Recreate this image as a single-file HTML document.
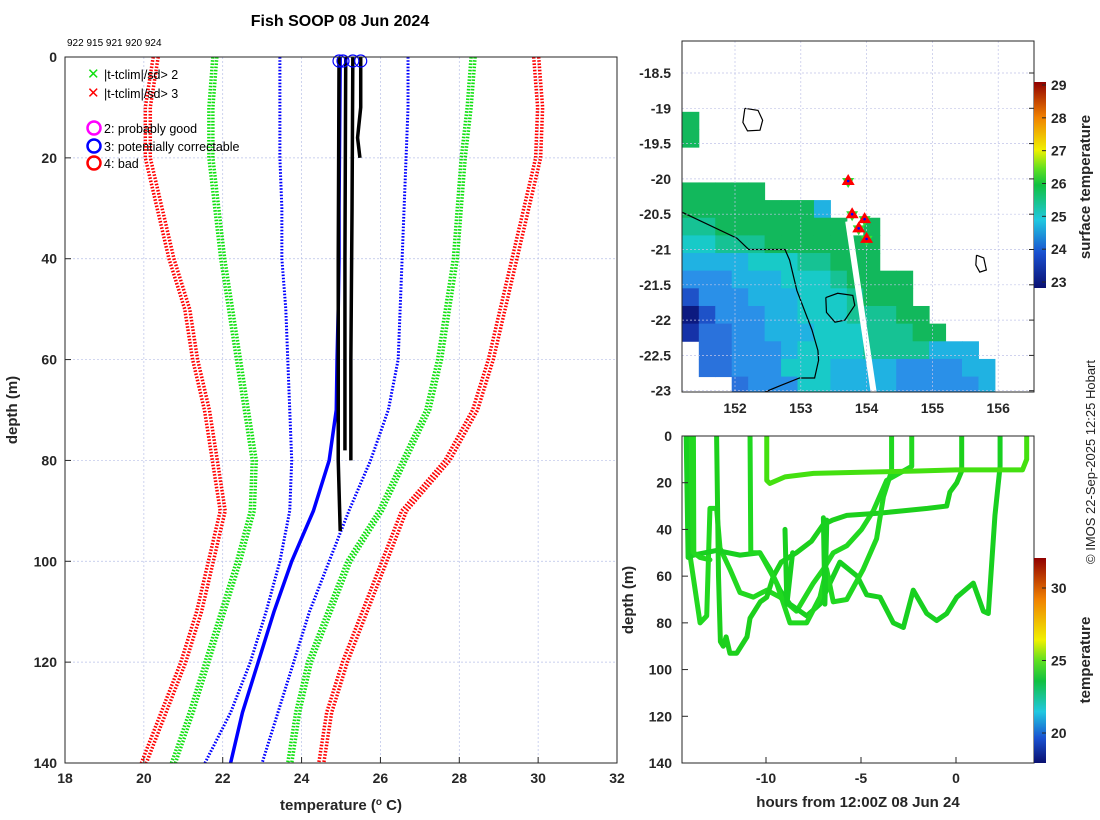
<!DOCTYPE html>
<html><head><meta charset="utf-8">
<style>
body{margin:0;background:#fff;}
svg{display:block;font-family:"Liberation Sans","DejaVu Sans",sans-serif;}
.tk{font-size:14px;font-weight:bold;fill:#262626;}
.lab{font-size:15px;font-weight:bold;fill:#262626;}
</style></head>
<body>
<svg id="fig" width="1100" height="820" viewBox="0 0 1100 820" xmlns="http://www.w3.org/2000/svg">
<defs>
<linearGradient id="cb1" x1="0" y1="1" x2="0" y2="0">
<stop offset="0" stop-color="#0a1070"/><stop offset="0.17" stop-color="#1a50d0"/><stop offset="0.33" stop-color="#20c8e0"/><stop offset="0.5" stop-color="#10c040"/><stop offset="0.58" stop-color="#60e020"/><stop offset="0.67" stop-color="#f0f000"/><stop offset="0.83" stop-color="#f08000"/><stop offset="1" stop-color="#900000"/>
</linearGradient>
<linearGradient id="cb2" x1="0" y1="1" x2="0" y2="0">
<stop offset="0" stop-color="#0a1070"/><stop offset="0.12" stop-color="#1a50d0"/><stop offset="0.25" stop-color="#20c8e0"/><stop offset="0.4" stop-color="#10c040"/><stop offset="0.5" stop-color="#60e020"/><stop offset="0.6" stop-color="#f0f000"/><stop offset="0.8" stop-color="#f08000"/><stop offset="1" stop-color="#900000"/>
</linearGradient>
<clipPath id="clipMain"><rect x="65" y="57" width="552" height="706"/></clipPath>
<clipPath id="clipMap"><rect x="682" y="41" width="352" height="351"/></clipPath>
<clipPath id="clipTime"><rect x="682" y="436" width="352" height="327"/></clipPath>
</defs>
<g id="main"></g>
<g id="map"></g>
<g id="time"></g>
<text x="340" y="26" text-anchor="middle" style="font-size:16px;font-weight:bold;fill:#000">Fish SOOP 08 Jun 2024</text>
<text x="67" y="46" style="font-size:10px;fill:#000">922 915 921 920 924</text>
<text x="341" y="810" text-anchor="middle" class="lab">temperature (<tspan dy="-5" font-size="10">o</tspan><tspan dy="5"> C)</tspan></text>
<text transform="translate(17,410) rotate(-90)" text-anchor="middle" class="lab">depth (m)</text>
<text x="858" y="807" text-anchor="middle" class="lab">hours from 12:00Z 08 Jun 24</text>
<text transform="translate(633,600) rotate(-90)" text-anchor="middle" class="lab">depth (m)</text>
<text transform="translate(1090,187) rotate(-90)" text-anchor="middle" class="lab">surface temperature</text>
<text transform="translate(1090,660) rotate(-90)" text-anchor="middle" class="lab">temperature</text>
<text transform="translate(1095,462) rotate(-90)" text-anchor="middle" style="font-size:13px;fill:#222">© IMOS 22-Sep-2025 12:25 Hobart</text>
</svg>
<script>
const NS="http://www.w3.org/2000/svg";
// ---------- profile plot data ----------
const tempTicks=[18,20,22,24,26,28,30,32];
const depthTicks=[0,20,40,60,80,100,120,140];
const depthLevels=[0,10,20,30,40,50,60,70,80,90,100,110,120,130,140];
const redLeft=[20.3,20.1,20.1,20.4,20.7,21.1,21.3,21.6,21.8,22.0,21.7,21.4,21.0,20.5,20.0];
const greenLeft=[21.8,21.7,21.7,21.85,22.0,22.2,22.4,22.6,22.8,22.75,22.4,22.0,21.6,21.2,20.75];
const blueLeft=[23.45,23.45,23.45,23.5,23.5,23.6,23.65,23.7,23.75,23.7,23.45,23.1,22.7,22.2,21.55];
const blueMain=[24.98,24.97,24.96,24.95,24.95,24.93,24.9,24.88,24.7,24.3,23.75,23.3,22.9,22.5,22.2];
const blueRight=[26.7,26.7,26.65,26.6,26.55,26.5,26.45,26.2,25.75,25.2,24.7,24.2,23.8,23.4,23.0];
const greenRight=[28.35,28.25,28.1,28.0,27.9,27.7,27.5,27.2,26.6,26.0,25.2,24.7,24.2,23.9,23.7];
const redRight=[29.95,30.05,30.0,29.7,29.4,29.1,28.8,28.4,27.7,26.6,26.1,25.6,25.1,24.7,24.5];
const blackA=[[24.95,0],[24.93,40],[24.93,80],[24.98,94]];
const blackB=[[25.3,0],[25.28,30],[25.25,60],[25.25,80]];
const blackC=[[25.5,0],[25.5,10],[25.42,16],[25.48,20]];
const blackD=[[25.12,0],[25.1,40],[25.1,78]];
const dropTemps=[24.95,25.05,25.3,25.5];

const xT=t=>65+(t-18)*552/14;
const yD=d=>57+d*706/140;
function el(tag,attrs,parent){const e=document.createElementNS(NS,tag);for(const k in attrs)e.setAttribute(k,attrs[k]);parent.appendChild(e);return e;}
const main=document.getElementById('main');
el('rect',{x:65,y:57,width:552,height:706,fill:'#fff',stroke:'none'},main);
tempTicks.forEach(t=>{const g=el('line',{x1:xT(t),x2:xT(t),y1:57,y2:763,stroke:'#b8c0e8','stroke-width':0.7,'stroke-dasharray':'2 2'},main);

const tx=el('text',{x:xT(t),y:783,'text-anchor':'middle',class:'tk'},main);tx.textContent=t;

el('line',{x1:xT(t),x2:xT(t),y1:763,y2:757,stroke:'#262626'},main);});
depthTicks.forEach(d=>{const g=el('line',{x1:65,x2:617,y1:yD(d),y2:yD(d),stroke:'#b8c0e8','stroke-width':0.7,'stroke-dasharray':'2 2'},main);

const tx=el('text',{x:57,y:yD(d)+5,'text-anchor':'end',class:'tk'},main);tx.textContent=d;

el('line',{x1:65,x2:71,y1:yD(d),y2:yD(d),stroke:'#262626'},main);});
const clipG=el('g',{'clip-path':'url(#clipMain)'},main);
function envLine(arr,color,name,shifts,w){shifts.forEach(s=>{const p=el('polyline',{points:arr.map((t,i)=>xT(t)+','+yD(depthLevels[i])).join(' '),fill:'none',stroke:color,'stroke-width':w,'stroke-dasharray':'1.6 1.6',transform:'translate('+s+',0)'},clipG);
});}
envLine(redLeft,'#ff0000','clim-3sd-left',[-2.5,2.5],3.5);
envLine(greenLeft,'#10e010','clim-2sd-left',[-2,2],3.5);
envLine(blueLeft,'#0000ff','clim-1sd-left',[0],3);
envLine(blueRight,'#0000ff','clim-1sd-right',[0],3);
envLine(greenRight,'#10e010','clim-2sd-right',[-2,2],3.5);
envLine(redRight,'#ff0000','clim-3sd-right',[-2.5,2.5],3.5);
const bm=el('polyline',{points:blueMain.map((t,i)=>xT(t)+','+yD(depthLevels[i])).join(' '),fill:'none',stroke:'#0000ff','stroke-width':3.5},clipG);

[blackA,blackB,blackC,blackD].forEach(a=>{const p=el('polyline',{points:a.map(q=>xT(q[0])+','+yD(q[1])).join(' '),fill:'none',stroke:'#000','stroke-width':3.5},clipG);
});
dropTemps.forEach(t=>{const c=el('circle',{cx:xT(t),cy:yD(0)+4,r:6,fill:'none',stroke:'#0000ff','stroke-width':1.2},main);
});
el('rect',{x:65,y:57,width:552,height:706,fill:'none',stroke:'#262626','stroke-width':1},main);
// legend
const leg=el('g',{},main);

[['#10e010','|t-tclim|/sd> 2',74],['#ff0000','|t-tclim|/sd> 3',93]].forEach(a=>{
const t=el('text',{x:87,y:a[2]+5,fill:a[0],'font-size':'15','font-weight':'bold'},leg);t.textContent='✕';
const s=el('text',{x:104,y:a[2]+5,'font-size':'12.5',fill:'#000'},leg);s.textContent=a[1];
});
[['#ff00ff','2: probably good',128],['#0000ff','3: potentially correctable',146],['#ff0000','4: bad',163]].forEach(a=>{
el('circle',{cx:94,cy:a[2],r:6.5,fill:'none',stroke:a[0],'stroke-width':2.5},leg);
const s=el('text',{x:104,y:a[2]+5,'font-size':'12.5',fill:'#000'},leg);s.textContent=a[1];
});

// ---------- map data ----------
const lonTicks=[152,153,154,155,156];
const latTicks=[-18.5,-19,-19.5,-20,-20.5,-21,-21.5,-22,-22.5,-23];
const gridLon0=151.2, gridLat0=-18.05, cellDeg=0.25;
const sstRows=[
'.....................',
'.....................',
'.....................',
'.....................',
'8....................',
'8....................',
'.....................',
'.....................',
'88888................',
'888888885............',
'7788888888.8.........',
'667778888888.........',
'555566677888.........',
'44455566678888.......',
'24445556667888.......',
'024445566677788......',
'1334455566677788.....',
'.33444566667777555...',
'.334446665555444455..',
'...3444665555444445..'];
const sstColors={'0':'#0c1a80','1':'#1532a8','2':'#1e52c8','3':'#2a72dc','4':'#2a90e8','5':'#20b2e2','6':'#18cac8','7':'#16c294','8':'#12b85c'};
const reefLine=[[151.19,-20.47],[152.03,-20.84],[152.21,-21.0],[152.76,-21.0],[152.83,-21.15],[152.94,-21.58],[153.17,-22.14],[153.26,-22.43],[153.27,-22.57],[153.21,-22.82],[152.98,-22.82],[152.71,-22.92],[152.45,-23.02]];
const reefIsland=[[153.38,-21.68],[153.56,-21.62],[153.79,-21.65],[153.82,-21.79],[153.67,-22.0],[153.52,-22.03],[153.39,-21.89],[153.38,-21.68]];
const topIsland=[[152.15,-19.0],[152.35,-19.03],[152.42,-19.17],[152.38,-19.31],[152.19,-19.32],[152.12,-19.2],[152.15,-19.0]];
const eastIsland=[[155.67,-21.08],[155.78,-21.12],[155.82,-21.29],[155.72,-21.32],[155.66,-21.22],[155.67,-21.08]];
const gapLine=[[153.72,-20.6],[154.12,-23.1]];
const dropLon=[153.72,153.78,153.97,153.88,154.0];
const dropLat=[-20.03,-20.5,-20.57,-20.7,-20.85];
const sstCbTicks=[23,24,25,26,27,28,29];

const xL=l=>735+(l-152)*65.8;
const yLa=a=>73+(-18.5-a)*70.6;
const map=document.getElementById('map');
const mclip=el('g',{'clip-path':'url(#clipMap)'},map);
sstRows.forEach((row,r)=>{for(let c=0;c<row.length;c++){const ch=row[c];if(ch==='.')continue;
const lon=gridLon0+c*cellDeg, lat=gridLat0-r*cellDeg;
const x0=xL(lon),y0=yLa(lat);
const cell=el('rect',{x:x0,y:y0,width:xL(lon+cellDeg)-x0+0.5,height:yLa(lat-cellDeg)-y0+0.5,fill:sstColors[ch]},mclip);
}});
const gp=el('polyline',{points:gapLine.map(p=>xL(p[0])+','+yLa(p[1])).join(' '),stroke:'#fff','stroke-width':6,fill:'none'},mclip);

lonTicks.forEach(l=>{const g=el('line',{x1:xL(l),x2:xL(l),y1:41,y2:392,stroke:'#c0c4e8','stroke-width':0.7,'stroke-dasharray':'2 2'},map);

const t=el('text',{x:xL(l),y:413,'text-anchor':'middle',class:'tk'},map);t.textContent=l;
});
latTicks.forEach(a=>{const g=el('line',{x1:682,x2:1034,y1:yLa(a),y2:yLa(a),stroke:'#c0c4e8','stroke-width':0.7,'stroke-dasharray':'2 2'},map);

el('line',{x1:1034,x2:1029,y1:yLa(a),y2:yLa(a),stroke:'#262626'},map);
const t=el('text',{x:671,y:yLa(a)+5,'text-anchor':'end',class:'tk'},map);t.textContent=a;
});
[[reefLine,'reef-outline'],[reefIsland,'island-outline'],[topIsland,'island-outline'],[eastIsland,'island-outline']].forEach(a=>{
const p=el('polyline',{points:a[0].map(q=>xL(q[0])+','+yLa(q[1])).join(' '),fill:'none',stroke:'#000','stroke-width':1.2},mclip);
});
dropLon.forEach((lo,i)=>{const x=xL(lo),y=yLa(dropLat[i]);
el('polygon',{points:`${x-6},${y-3} ${x+6},${y-3} ${x},${y+7}`,fill:'#30e030'},map);
const tr=el('polygon',{points:`${x},${y-7} ${x+6.5},${y+4} ${x-6.5},${y+4}`,fill:'#ff0000'},map);

el('circle',{cx:x,cy:y,r:1.3,fill:'#0000ff'},map);});
el('rect',{x:682,y:41,width:352,height:351,fill:'none',stroke:'#262626'},map);
const cb1=el('rect',{x:1034,y:82,width:12,height:206,fill:'url(#cb1)'},map);

const yCb1=v=>282-(v-23)*(282-85)/6;
sstCbTicks.forEach(v=>{el('line',{x1:1046,x2:1042,y1:yCb1(v),y2:yCb1(v),stroke:'#262626'},map);
const t=el('text',{x:1051,y:yCb1(v)+5,class:'tk'},map);t.textContent=v;
});

// ---------- depth-time data ----------
const hourTicks=[-10,-5,0];
const tDepthTicks=[0,20,40,60,80,100,120,140];
const tempCbTicks=[20,25,30];
const trackTop=[[-9.96,0],[-9.96,19],[-9.8,20.3],[-9.0,17.5],[-7.5,16],[-5,15.5],[-2,15],[0,14.5],[2,14.5],[3.5,14.5],[3.72,10],[3.72,0]];
const trackA=[[-12.6,0],[-12.5,60],[-12.4,88],[-12.25,90],[-12.1,86],[-11.9,93],[-11.54,93],[-11.0,86],[-10.84,78],[-10.3,71],[-9.96,69],[-9.61,60],[-9.2,54],[-8.4,50],[-7.6,45],[-7.0,38],[-6.5,36],[-5.75,34],[-4.0,33],[-1.5,31],[-0.49,30],[-0.32,24],[0.04,20],[0.3,15],[0.3,0]];
const trackB=[[-10.84,0],[-10.8,50],[-10.32,50],[-9.44,63],[-8.74,80],[-7.86,80],[-7.16,69],[-6.81,57],[-6.46,71],[-5.75,70],[-4.88,57],[-4.18,44],[-3.82,26],[-3.39,15],[-3.39,0]];
const trackC=[[-14.0,0],[-14.0,51],[-13.47,80],[-13.12,77],[-12.95,31],[-12.6,31],[-12.42,48],[-11.9,57],[-11.37,67],[-10.67,69],[-9.96,66],[-9.26,69],[-8.39,75],[-7.51,63],[-6.98,57],[-6.46,50],[-5.75,47],[-4.97,40],[-4.35,32],[-3.65,19],[-2.33,13],[-2.33,0]];
const trackD=[[-14.2,0],[-14.1,52],[-13.82,51],[-12.6,49],[-11.37,51],[-10.32,50],[-9.79,57],[-9.26,66],[-8.74,72],[-7.86,77],[-7.16,72],[-6.11,54],[-5.2,60],[-4.7,68],[-4.0,69],[-3.3,80],[-2.77,82],[-2.25,66],[-1.54,76],[-1.02,79],[-0.49,76],[0.04,69],[0.91,63],[1.44,75],[1.7,76],[2.05,34],[2.32,13],[2.32,0]];
const trackE=[[-13.82,0],[-13.8,50],[-13.47,52],[-12.95,53]];
const trackF=[[-6.98,35],[-6.9,72],[-6.8,36]];
const trackG=[[-9.0,40],[-8.9,72],[-8.6,50]];

const xH=h=>956+h*19;
const yTD=d=>436+d*327/140;
const tg=document.getElementById('time');
const tclip=el('g',{'clip-path':'url(#clipTime)'},tg);
[[trackC,'#22d820'],[trackD,'#18d020'],[trackA,'#1cd01c'],[trackB,'#20d820'],[trackE,'#22d820'],[trackF,'#18d020'],[trackG,'#18d020'],[trackTop,'#44e010']].forEach(a=>{
const p=el('polyline',{points:a[0].map(q=>xH(q[0])+','+yTD(q[1])).join(' '),fill:'none',stroke:a[1],'stroke-width':5,'stroke-linejoin':'round','stroke-linecap':'round'},tclip);
});
el('rect',{x:682,y:436,width:352,height:327,fill:'none',stroke:'#262626'},tg);
hourTicks.forEach(h=>{el('line',{x1:xH(h),x2:xH(h),y1:763,y2:757,stroke:'#262626'},tg);
const t=el('text',{x:xH(h),y:783,'text-anchor':'middle',class:'tk'},tg);t.textContent=h;
});
tDepthTicks.forEach(d=>{el('line',{x1:682,x2:688,y1:yTD(d),y2:yTD(d),stroke:'#262626'},tg);
const t=el('text',{x:672,y:yTD(d)+5,'text-anchor':'end',class:'tk'},tg);t.textContent=d;
});
const cb2=el('rect',{x:1034,y:558,width:12,height:205,fill:'url(#cb2)'},tg);

const yCb2=v=>733-(v-20)*(733-588)/10;
tempCbTicks.forEach(v=>{el('line',{x1:1046,x2:1042,y1:yCb2(v),y2:yCb2(v),stroke:'#262626'},tg);
const t=el('text',{x:1051,y:yCb2(v)+5,class:'tk'},tg);t.textContent=v;
});
</script>
</body></html>
